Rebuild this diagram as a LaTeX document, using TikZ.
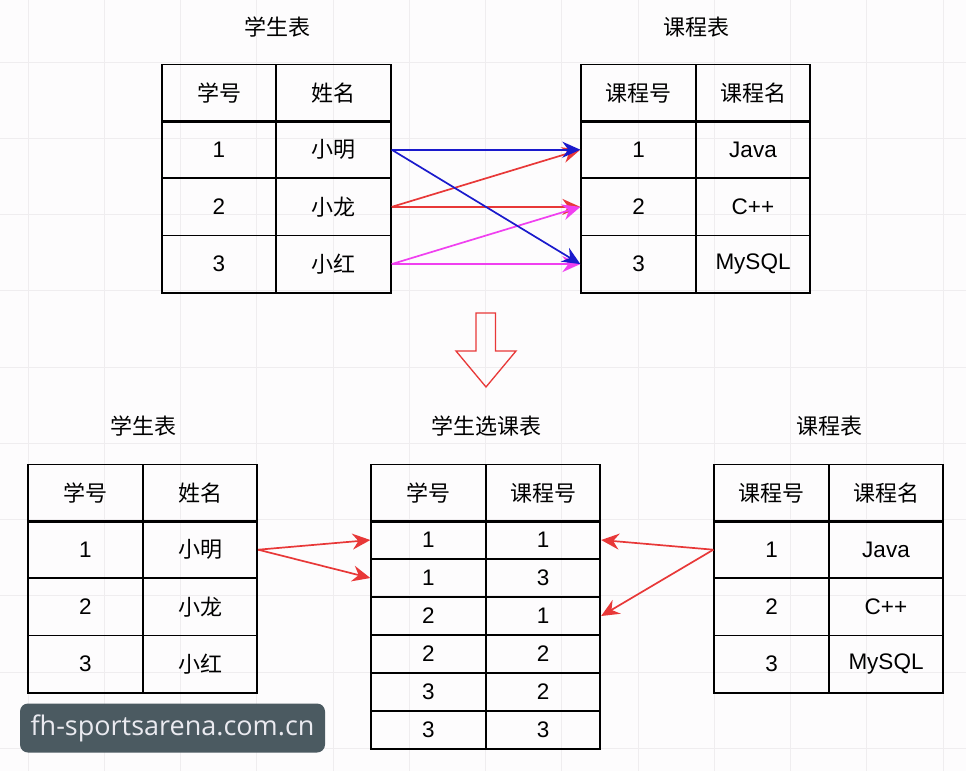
\documentclass[tikz,border=0pt]{standalone}
\usepackage{fontspec}
\setmainfont{Liberation Sans}
\newfontfamily\cjk{Noto Sans CJK SC}
\newfontfamily\wmfont{Open Sans}
\usetikzlibrary{arrows.meta}
\definecolor{gridc}{HTML}{EFEDEF}
\definecolor{bgc}{HTML}{FDFCFD}
\definecolor{linkblue}{HTML}{1A1ACC}
\definecolor{linkred}{HTML}{E83838}
\definecolor{linkmag}{HTML}{F040F0}
\definecolor{wmc}{HTML}{4B5A61}
\definecolor{wmtext}{HTML}{EAEAF0}
\tikzset{
  cell/.style={draw=black, line width=1.8pt, minimum width=114.5pt, minimum height=57.2pt,
    inner sep=0pt, font=\fontsize{22.5}{26}\selectfont, anchor=center},
  zcell/.style={cell, font=\cjk\fontsize{22}{26}\selectfont},
  scell/.style={cell, minimum height=38pt},
  ttl/.style={font=\cjk\fontsize{22}{26}\selectfont, inner sep=0pt},
  link/.style={line width=1.7pt, -{Stealth[length=18pt,width=16pt,inset=6pt]}},
}
\begin{document}
\begin{tikzpicture}[x=1pt,y=-1pt]
\useasboundingbox (0,0) rectangle (966,771);
\fill[bgc] (0,0) rectangle (966,771);
\foreach \i in {0,...,12} \draw[gridc, line width=1pt] ({28+76.25*\i},0) -- ({28+76.25*\i},771);
\foreach \j in {0,...,9} \draw[gridc, line width=1pt] (0,{62+76.25*\j}) -- (966,{62+76.25*\j});

% ---------- top left: student table
\node[ttl] (t1) at (277,27) {学生表};
\node[zcell] (a11) at (219,93) {学号};
\node[zcell] (a12) at (333.5,93) {姓名};
\node[cell]  (a21) at (219,149.7) {1};
\node[zcell] (a22) at (333.5,149.7) {小明};
\node[cell]  (a31) at (219,206.9) {2};
\node[zcell] (a32) at (333.5,206.9) {小龙};
\node[cell]  (a41) at (219,264.1) {3};
\node[zcell] (a42) at (333.5,264.1) {小红};

% ---------- top right: course table
\node[ttl] (t2) at (696,27) {课程表};
\node[zcell] (b11) at (638.5,93) {课程号};
\node[zcell] (b12) at (753,93) {课程名};
\node[cell] (b21) at (638.5,149.7) {1};
\node[cell] (b22) at (753,149.7) {Java};
\node[cell] (b31) at (638.5,206.9) {2};
\node[cell] (b32) at (753,206.9) {C++};
\node[cell] (b41) at (638.5,264.1) {3};
\node[cell] (b42) at (753,264.1) {MySQL};

% ---------- top links
\draw[link, linkred] (a32.east) -- (b21.west);
\draw[link, linkred] (a32.east) -- (b31.west);
\draw[link, linkmag] (a42.east) -- (b31.west);
\draw[link, linkmag] (a42.east) -- (b41.west);
\draw[link, linkblue] (a22.east) -- (b21.west);
\draw[link, linkblue] (a22.east) -- (b41.west);

% ---------- down block arrow
\draw[linkred, line width=1.3pt, line join=miter]
  (476,313) -- (495.5,313) -- (495.5,351) -- (516,351) -- (486,387) -- (456,351) -- (476,351) -- cycle;

% ---------- bottom left: student table
\node[ttl] (t3) at (143,426) {学生表};
\node[zcell] (c11) at (85.5,493) {学号};
\node[zcell] (c12) at (200,493) {姓名};
\node[cell]  (c21) at (85.5,549.7) {1};
\node[zcell] (c22) at (200,549.7) {小明};
\node[cell]  (c31) at (85.5,606.9) {2};
\node[zcell] (c32) at (200,606.9) {小龙};
\node[cell]  (c41) at (85.5,664.1) {3};
\node[zcell] (c42) at (200,664.1) {小红};

% ---------- middle: student-course table
\node[ttl] (t4) at (486,426) {学生选课表};
\node[zcell] (d01) at (428.5,493) {学号};
\node[zcell] (d02) at (543,493) {课程号};
\node[scell] (d11) at (428.5,540) {1};
\node[scell] (d12) at (543,540) {1};
\node[scell] (d21) at (428.5,578) {1};
\node[scell] (d22) at (543,578) {3};
\node[scell] (d31) at (428.5,616) {2};
\node[scell] (d32) at (543,616) {1};
\node[scell] (d41) at (428.5,654) {2};
\node[scell] (d42) at (543,654) {2};
\node[scell] (d51) at (428.5,692) {3};
\node[scell] (d52) at (543,692) {2};
\node[scell] (d61) at (428.5,730) {3};
\node[scell] (d62) at (543,730) {3};

% ---------- bottom right: course table
\node[ttl] (t5) at (829,426) {课程表};
\node[zcell] (e11) at (771.5,493) {课程号};
\node[zcell] (e12) at (886,493) {课程名};
\node[cell] (e21) at (771.5,549.7) {1};
\node[cell] (e22) at (886,549.7) {Java};
\node[cell] (e31) at (771.5,606.9) {2};
\node[cell] (e32) at (886,606.9) {C++};
\node[cell] (e41) at (771.5,664.1) {3};
\node[cell] (e42) at (886,664.1) {MySQL};

% ---------- bottom links
\draw[link, linkred] (c22.east) -- (d11.west);
\draw[link, linkred] (c22.east) -- (d21.west);
\draw[link, linkred] (e21.west) -- (d12.east);
\draw[link, linkred] (e21.west) -- (d32.east);

% ---------- watermark
\node[fill=wmc, rounded corners=8pt, minimum width=305pt, minimum height=49pt, inner sep=0pt,
  text=wmtext, font=\wmfont\fontsize{27}{30}\selectfont] (wm) at (172.5,728) {fh-sportsarena.com.cn};
\end{tikzpicture}
\end{document}
